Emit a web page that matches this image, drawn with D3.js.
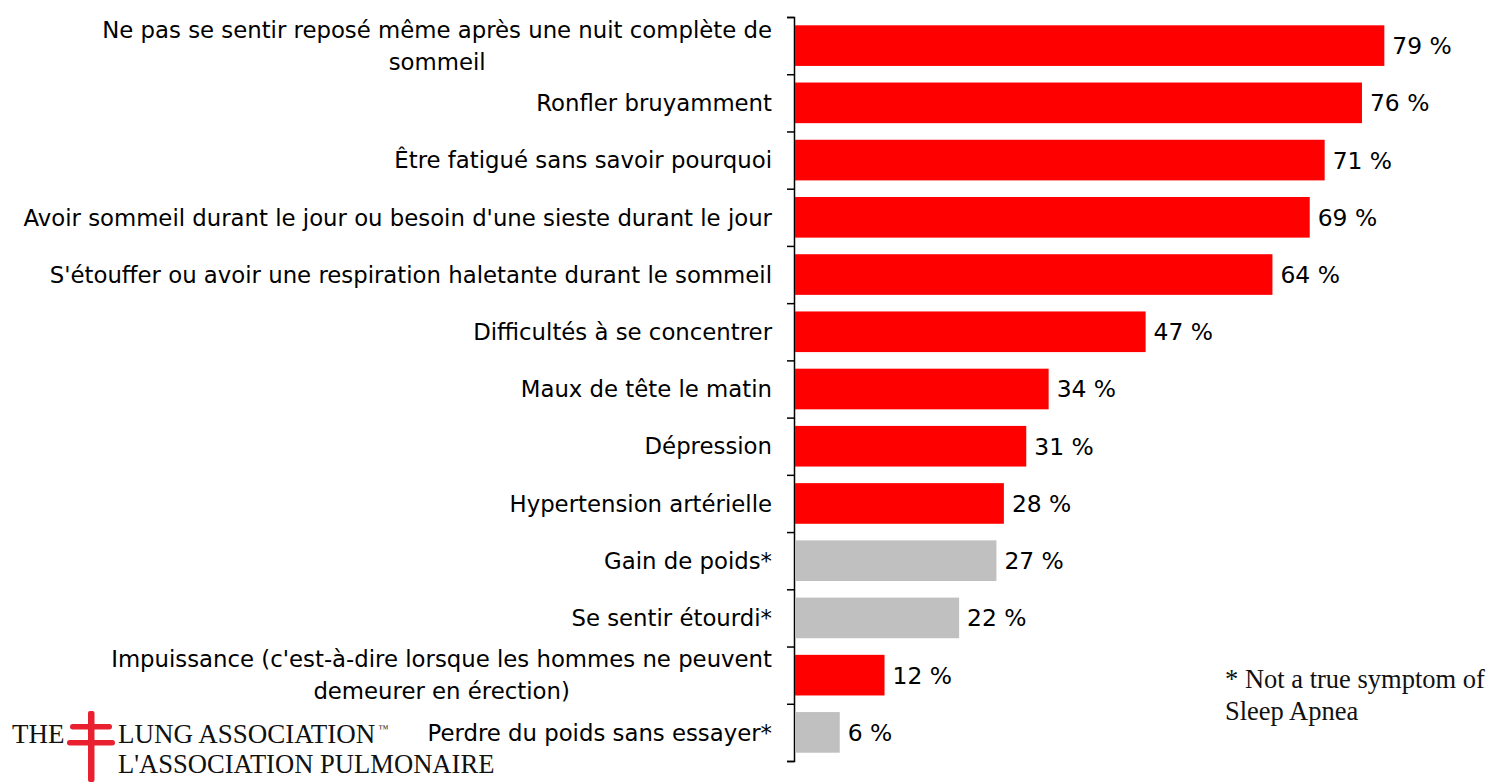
<!DOCTYPE html>
<html>
<head>
<meta charset="utf-8">
<script src="https://cdn.jsdelivr.net/npm/d3@7"></script>
<style>
  body { margin: 0; background: #fff; }
  .lbl { font-family: "DejaVu Sans", Tahoma, sans-serif; font-size: 22.8px; fill: #000; }
  .val { font-family: "DejaVu Sans", Tahoma, sans-serif; font-size: 23.4px; fill: #000; }
  .logo { font-family: "Liberation Serif", "Times New Roman", serif; fill: #111; }
</style>
</head>
<body>
<div class="container"></div>
<script>
// categories (line breaks as in the original)
var categories = [
  "Ne pas se sentir reposé même après une nuit complète de\nsommeil",
  "Ronfler bruyamment",
  "Être fatigué sans savoir pourquoi",
  "Avoir sommeil durant le jour ou besoin d'une sieste durant le jour",
  "S'étouffer ou avoir une respiration haletante durant le sommeil",
  "Difficultés à se concentrer",
  "Maux de tête le matin",
  "Dépression",
  "Hypertension artérielle",
  "Gain de poids*",
  "Se sentir étourdi*",
  "Impuissance (c'est-à-dire lorsque les hommes ne peuvent\ndemeurer en érection)",
  "Perdre du poids sans essayer*"
]
var values = [79, 76, 71, 69, 64, 47, 34, 31, 28, 27, 22, 12, 6]
// true symptom of sleep apnea or not
var trueSymptom = [true, true, true, true, true, true, true, true, true, false, false, true, false]

var width = 1490, height = 782

var svg = d3.select(".container").append("svg")
    .attr("width", width)
    .attr("height", height)

var x = d3.scaleLinear().domain([0, 80]).range([795, 795 + 80 * 7.46])

var y = d3.scaleBand()
    .domain(categories)
    .range([17, 761])
    .paddingInner(0.29)
    .paddingOuter(0.145)

// axis with ticks between the categories
var yIdx = d3.scaleLinear().domain([0, categories.length]).range([17, 761])

svg.append("g")
    .attr("transform", "translate(794,0)")
    .call(d3.axisLeft(yIdx).tickValues(d3.range(categories.length + 1)).tickSize(7).tickFormat(""))
    .call(function(g) {
      g.selectAll("line, path").attr("stroke", "#000").attr("stroke-width", 1.5)
    })

var rows = svg.append("g").selectAll("g")
    .data(categories)
    .enter().append("g")

rows.append("rect")
    .attr("x", x(0))
    .attr("y", function(d) { return y(d) })
    .attr("width", function(d, i) { return x(values[i]) - x(0) })
    .attr("height", y.bandwidth())
    .attr("fill", function(d, i) { return trueSymptom[i] ? "#ff0000" : "#c0c0c0" })

rows.append("text")
    .attr("class", "val")
    .attr("x", function(d, i) { return x(values[i]) + 8 })
    .attr("y", function(d) { return y(d) + y.bandwidth() / 2 })
    .attr("dy", "0.36em")
    .text(function(d, i) { return values[i] + " %" })

var labelRight = 772
var lineH = 32

rows.append("text")
    .attr("class", "lbl")
    .attr("y", function(d) { return y(d) + y.bandwidth() / 2 })
    .each(function(d) {
      var lines = d.split("\n")
      var t = d3.select(this)
      if (lines.length == 1) {
        t.attr("text-anchor", "end").append("tspan").attr("x", labelRight).attr("dy", "0.36em").text(d)
        return
      }
      // wrapped labels: lines centred under each other, block right-aligned
      var spans = lines.map(function(l, k) {
        return t.append("tspan").attr("dy", k == 0 ? (-(lines.length - 1) * lineH / 2 + 8.2) : lineH).text(l)
      })
      var maxW = d3.max(spans, function(s) { return s.node().getComputedTextLength() })
      t.attr("text-anchor", "middle")
      spans.forEach(function(s) { s.attr("x", labelRight - maxW / 2) })
    })

// footnote
var note = svg.append("text")
    .attr("class", "logo")
    .attr("font-size", 26.5)
note.append("tspan").attr("x", 1225).attr("y", 688).text("* Not a true symptom of")
note.append("tspan").attr("x", 1225).attr("y", 720).text("Sleep Apnea")

// logo
var red = "#e8202f"
var logo = svg.append("g")
logo.append("text").attr("class", "logo").attr("font-size", 27).attr("x", 12).attr("y", 743).text("THE")
logo.append("text").attr("class", "logo").attr("font-size", 27).attr("x", 118).attr("y", 743)
    .text("LUNG ASSOCIATION")
    .append("tspan").attr("font-size", 10).attr("dx", 3).attr("dy", -11).text("™")
logo.append("text").attr("class", "logo").attr("font-size", 26.6).attr("x", 118).attr("y", 773).text("L'ASSOCIATION PULMONAIRE")
logo.append("rect").attr("x", 88).attr("y", 711).attr("width", 6.5).attr("height", 71).attr("rx", 2).attr("fill", red)
logo.append("rect").attr("x", 70).attr("y", 724).attr("width", 42).attr("height", 5.5).attr("rx", 2.7).attr("fill", red)
logo.append("rect").attr("x", 67).attr("y", 740).attr("width", 48).attr("height", 5.5).attr("rx", 2.7).attr("fill", red)
</script>
</body>
</html>
